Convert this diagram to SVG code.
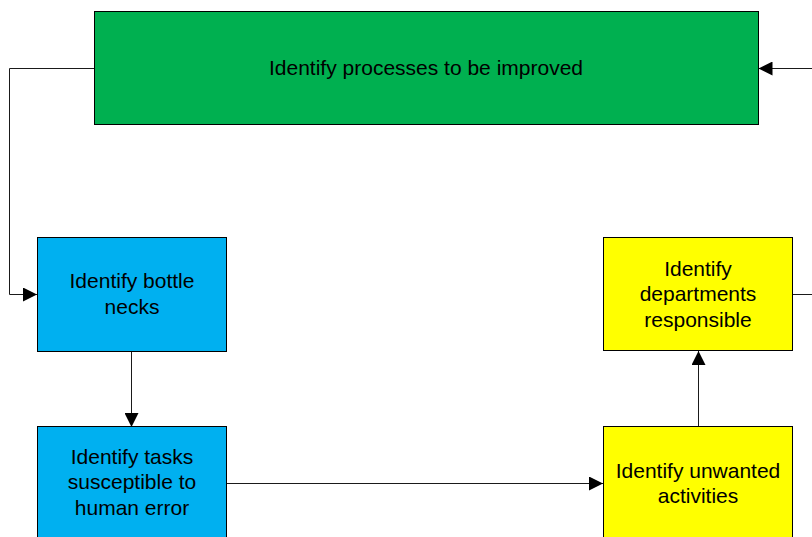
<svg xmlns="http://www.w3.org/2000/svg" width="812" height="537" viewBox="0 0 812 537">
  <style>
    .box { stroke: #000; stroke-width: 1; }
    .green { fill: #00B050; }
    .blue { fill: #00B0F0; }
    .yellow { fill: #FFFF00; }
    .label { font-family: "Liberation Sans", Arial, sans-serif; font-size: 21px; fill: #000; text-anchor: middle; }
    .wire { fill: none; stroke: #1a1a1a; stroke-width: 1; }
  </style>
  <defs>
    <marker id="arrow" markerUnits="userSpaceOnUse" markerWidth="14" markerHeight="14" viewBox="0 0 14 14" refX="14" refY="7" orient="auto">
      <path d="M0,0 L14,7 L0,14 Z" fill="#000"/>
    </marker>
  </defs>

  <g id="connectors">
    <path class="wire" d="M94,68.5 H9.5 V294.5 H37" marker-end="url(#arrow)"/>
    <path class="wire" d="M131.5,351 V427" marker-end="url(#arrow)"/>
    <path class="wire" d="M227,483.5 H603" marker-end="url(#arrow)"/>
    <path class="wire" d="M698.5,427 V351" marker-end="url(#arrow)"/>
    <path class="wire" d="M793,294.5 H830 V68.5 H758.5" marker-end="url(#arrow)"/>
  </g>

  <g id="identify-processes">
    <rect class="box green" x="94.5" y="11.5" width="664" height="113"/>
    <text class="label" x="426" y="74.5">Identify processes to be improved</text>
  </g>

  <g id="identify-bottlenecks">
    <rect class="box blue" x="37.5" y="237.5" width="189" height="114"/>
    <text class="label" x="132" y="288">Identify bottle</text>
    <text class="label" x="132" y="313.5">necks</text>
  </g>

  <g id="identify-departments">
    <rect class="box yellow" x="603.5" y="237.5" width="189" height="113"/>
    <text class="label" x="698" y="275.5">Identify</text>
    <text class="label" x="698" y="301">departments</text>
    <text class="label" x="698" y="326.5">responsible</text>
  </g>

  <g id="identify-tasks">
    <rect class="box blue" x="37.5" y="426.5" width="189" height="120"/>
    <text class="label" x="132" y="463.5">Identify tasks</text>
    <text class="label" x="132" y="489">susceptible to</text>
    <text class="label" x="132" y="514.5">human error</text>
  </g>

  <g id="identify-unwanted">
    <rect class="box yellow" x="603.5" y="426.5" width="189" height="120"/>
    <text class="label" x="698" y="477.5">Identify unwanted</text>
    <text class="label" x="698" y="503">activities</text>
  </g>
</svg>
